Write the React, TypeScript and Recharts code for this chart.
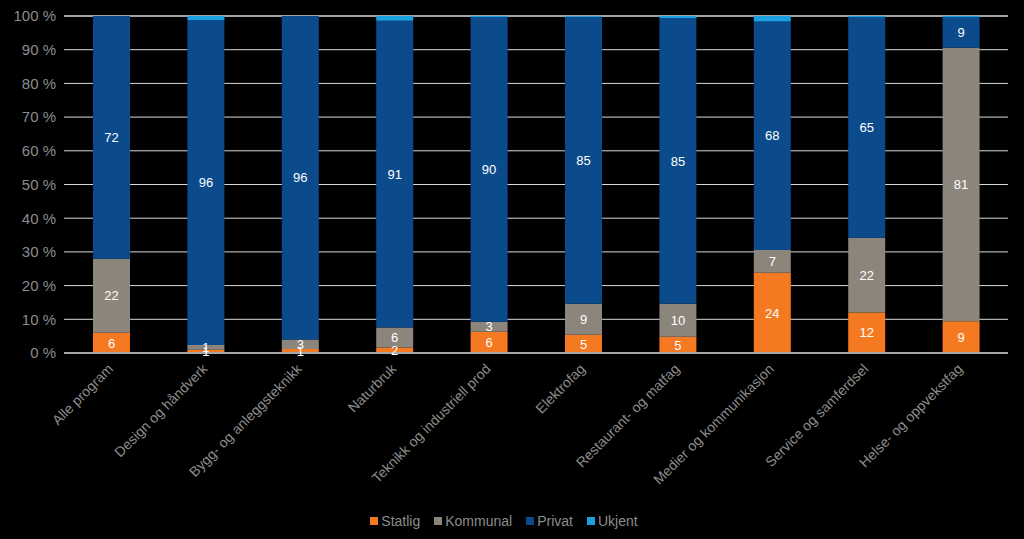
import React from 'react';
import {
  BarChart,
  Bar,
  XAxis,
  YAxis,
  CartesianGrid,
  Legend,
  LabelList
} from 'recharts';

const programs = [
  'Alle program',
  'Design og håndverk',
  'Bygg- og anleggsteknikk',
  'Naturbruk',
  'Teknikk og industriell prod',
  'Elektrofag',
  'Restaurant- og matfag',
  'Medier og kommunikasjon',
  'Service og samferdsel',
  'Helse- og oppvekstfag'
];

const statlig = [6, 1, 1.2, 1.6, 6.3, 5.4, 4.8, 23.8, 12, 9.4];
const kommunal = [22, 1.4, 2.8, 6, 3, 9.2, 9.8, 6.8, 22.2, 81.2];
const privat = [72, 96.4, 96, 91, 90.4, 85.2, 84.8, 67.8, 65.4, 9];
const ukjent = [0, 1.2, 0, 1.4, 0.3, 0.2, 0.6, 1.6, 0.4, 0.4];

const yTicks = [0, 10, 20, 30, 40, 50, 60, 70, 80, 90, 100];

const series = [
  { key: 'statlig', name: 'Statlig', color: '#f47920' },
  { key: 'kommunal', name: 'Kommunal', color: '#8c857b' },
  { key: 'privat', name: 'Privat', color: '#0b4a8b' },
  { key: 'ukjent', name: 'Ukjent', color: '#1ba1e2' }
];

const data = programs.map((name, i) => ({
  name,
  statlig: statlig[i],
  kommunal: kommunal[i],
  privat: privat[i],
  ukjent: ukjent[i]
}));

const FONT = '"Liberation Sans", Arial, sans-serif';
const GREY_TEXT = '#8c8c8c';

const CategoryTick = (props: any) => {
  const { x, y, payload } = props;
  return (
    <g transform={`translate(${x},${y + 6})`}>
      <text
        transform="rotate(-45)"
        textAnchor="end"
        dy={4}
        fill={GREY_TEXT}
        fontSize={14}
        fontFamily={FONT}
      >
        {payload.value}
      </text>
    </g>
  );
};

const LegendContent = () => (
  <div style={{ display: 'flex', justifyContent: 'center', gap: 14, fontFamily: FONT, fontSize: 14, color: GREY_TEXT }}>
    {series.map((s) => (
      <span key={s.key} style={{ display: 'flex', alignItems: 'center' }}>
        <span style={{ width: 8, height: 8, background: s.color, display: 'inline-block', marginRight: 3 }} />
        {s.name}
      </span>
    ))}
  </div>
);

const fmt = (v: any) => (v ? Math.round(Number(v)) : '');

export default function App() {
  return (
    <div style={{ position: 'fixed', left: 0, top: 0, width: 1024, height: 539, background: '#000' }}>
      <BarChart
        width={1024}
        height={539}
        data={data}
        margin={{ top: 16, right: 16, left: 0, bottom: 0 }}
        barSize={37}
      >
        <CartesianGrid vertical={false} stroke="#d9d9d9" strokeWidth={1} />
        <XAxis
          dataKey="name"
          interval={0}
          tick={<CategoryTick />}
          tickLine={false}
          axisLine={{ stroke: '#a6a6a6', strokeWidth: 2 }}
          height={170}
        />
        <YAxis
          width={64}
          domain={[0, 100]}
          ticks={yTicks}
          tickFormatter={(v) => `${v} %`}
          tickLine={false}
          axisLine={false}
          tick={{ fill: GREY_TEXT, fontSize: 15, fontFamily: FONT }}
        />
        <Legend
          verticalAlign="bottom"
          content={<LegendContent />}
          wrapperStyle={{ bottom: 10 }}
        />
        {series.map((s) => (
          <Bar key={s.key} dataKey={s.key} name={s.name} stackId="a" fill={s.color} isAnimationActive={false}>
            {s.key !== 'ukjent' && (
              <LabelList dataKey={s.key} position="center" formatter={fmt} fill="#fff" fontSize={13} fontFamily={FONT} />
            )}
          </Bar>
        ))}
      </BarChart>
    </div>
  );
}
